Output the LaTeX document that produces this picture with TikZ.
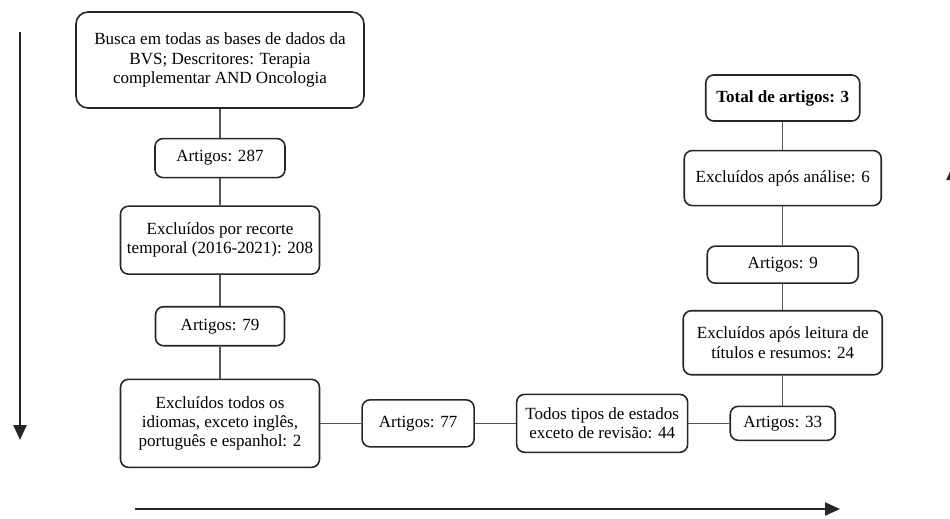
\documentclass[tikz,border=0pt]{standalone}
\usepackage{fontspec}
\setmainfont{Liberation Serif}
\usepackage{tikz}
\usetikzlibrary{positioning,arrows.meta}
\definecolor{Ink}{HTML}{262626}
\definecolor{Wire}{HTML}{555555}

\begin{document}
\begin{tikzpicture}[node distance=.58cm and .82cm, every node/.style={font=\fontsize{9.7}{11}\selectfont}]
\tikzstyle{box}=[draw=Ink,line width=.9pt,rounded corners=1.6mm,align=center,inner sep=2pt]
\tikzstyle{link}=[draw=Wire,line width=.8pt]
\tikzstyle{flow}=[-{Triangle[length=3mm,width=2.6mm]},line width=1.3pt,Ink]
\useasboundingbox (0,0) rectangle (19,-10.36);
\node[box,rounded corners=2.4mm,minimum width=5.76cm,minimum height=1.92cm] (busca) at (4.4,-1.2) {Busca em todas as bases de dados da\\BVS; Descritores: Terapia\\complementar AND Oncologia};
\node[box,minimum width=2.6cm,minimum height=.78cm,below=.58cm of busca] (art287) {Artigos: 287};
\node[box,minimum width=3.98cm,minimum height=1.36cm,below=.54cm of art287] (recorte) {Excluídos por recorte\\temporal (2016-2021): 208};
\node[box,minimum width=2.58cm,minimum height=.78cm,below=.62cm of recorte] (art79) {Artigos: 79};
\node[box,minimum width=3.98cm,minimum height=1.76cm,below=.64cm of art79] (idiomas) {Excluídos todos os\\idiomas, exceto inglês,\\português e espanhol: 2};
\node[box,minimum width=2.24cm,minimum height=.94cm,right=of idiomas] (art77) {Artigos: 77};
\node[box,minimum width=3.42cm,minimum height=1.16cm,right=of art77] (tipos) {Todos tipos de estados\\exceto de revisão: 44};
\node[box,minimum width=2.1cm,minimum height=.68cm,right=of tipos] (art33) {Artigos: 33};
\node[box,minimum width=3.98cm,minimum height=1.28cm,above=.6cm of art33] (leitura) {Excluídos após leitura de\\títulos e resumos: 24};
\node[box,minimum width=3.02cm,minimum height=.74cm,above=.52cm of leitura] (art9) {Artigos: 9};
\node[box,minimum width=3.94cm,minimum height=1.1cm,above=.78cm of art9] (analise) {Excluídos após análise: 6};
\node[box,minimum width=3.08cm,minimum height=.92cm,above=.56cm of analise] (total) {\textbf{Total de artigos: 3}};
\draw[link] (busca) -- (art287);
\draw[link] (art287) -- (recorte);
\draw[link] (recorte) -- (art79);
\draw[link] (art79) -- (idiomas);
\draw[link] (idiomas) -- (art77);
\draw[link] (art77) -- (tipos);
\draw[link] (tipos) -- (art33);
\draw[link] (art33) -- (leitura);
\draw[link] (leitura) -- (art9);
\draw[link] (art9) -- (analise);
\draw[link] (analise) -- (total);
% direction of reading
\coordinate (downA) at (.4,-.64);
\coordinate (downB) at (.4,-8.8);
\coordinate (acrossA) at (2.7,-10.18);
\coordinate (acrossB) at (16.8,-10.18);
\coordinate (upA) at (19.06,-7.9);
\coordinate (upB) at (19.06,-3.3);
\draw[flow] (downA) -- (downB);
\draw[flow] (acrossA) -- (acrossB);
\draw[flow] (upA) -- (upB);
\end{tikzpicture}
\end{document}
